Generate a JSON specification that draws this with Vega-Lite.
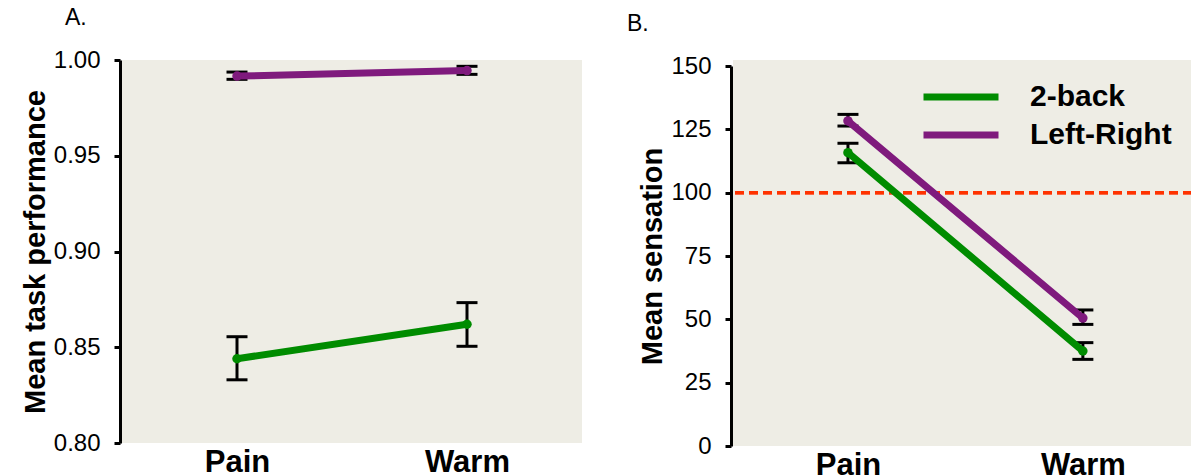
{
  "$schema": "https://vega.github.io/schema/vega-lite/v6.json",
  "padding": {"left": 21, "top": 7, "right": 0, "bottom": 0},
  "background": "white",
  "config": {
    "font": "Liberation Sans",
    "view": {"fill": "#EEEDE5", "stroke": null},
    "axisY": {
      "grid": false, "domainWidth": 3, "domainColor": "black", "tickWidth": 3, "tickColor": "black",
      "tickSize": 6, "labelFontSize": 24, "labelColor": "black", "labelPadding": 14, "labelFont": "Liberation Sans",
      "titleFontSize": 29, "titleFontWeight": "bold", "titleColor": "black", "titlePadding": 3, "offset": 2
    },
    "axisX": {
      "domain": false, "ticks": false, "grid": false, "labelAngle": 0, "labelFontSize": 31, "labelFontWeight": "bold",
      "labelColor": "black", "labelPadding": 4, "title": null
    },
    "title": {"fontSize": 23, "fontWeight": "normal", "color": "black", "anchor": "start", "frame": "group"}
  },
  "datasets": {
    "A": [
      {"condition": "Pain", "task": "2-back", "mean": 0.844, "lo": 0.833, "hi": 0.8555},
      {"condition": "Warm", "task": "2-back", "mean": 0.862, "lo": 0.8505, "hi": 0.8733},
      {"condition": "Pain", "task": "Left-Right", "mean": 0.9916, "lo": 0.9899, "hi": 0.9937},
      {"condition": "Warm", "task": "Left-Right", "mean": 0.9945, "lo": 0.9925, "hi": 0.9967}
    ],
    "B": [
      {"condition": "Pain", "task": "2-back", "mean": 115.8, "lo": 111.8, "hi": 119.5},
      {"condition": "Warm", "task": "2-back", "mean": 37.5, "lo": 34.2, "hi": 40.8},
      {"condition": "Pain", "task": "Left-Right", "mean": 128.3, "lo": 126.3, "hi": 130.9},
      {"condition": "Warm", "task": "Left-Right", "mean": 50.5, "lo": 48.0, "hi": 53.7}
    ]
  },
  "resolve": {"legend": {"color": "independent"}, "scale": {"color": "independent"}},
  "spacing": 45,
  "hconcat": [
    {
      "width": 460, "height": 383,
      "title": {"text": "A.", "dx": -57, "offset": 18},
      "data": {"name": "A"},
      "layer": [
        {
          "mark": {"type": "rule", "strokeWidth": 3, "color": "black"},
          "encoding": {
            "x": {"field": "condition", "type": "nominal", "scale": {"type": "point", "padding": 0.5}, "sort": ["Pain", "Warm"]},
            "y": {"field": "lo", "type": "quantitative", "scale": {"domain": [0.8, 1.0], "nice": false, "zero": false},
                  "axis": {"values": [0.8, 0.85, 0.9, 0.95, 1.0], "format": ".2f", "title": "Mean task performance"}},
            "y2": {"field": "hi"}
          }
        },
        {
          "mark": {"type": "tick", "orient": "horizontal", "size": 21, "thickness": 3, "color": "black", "opacity": 1},
          "encoding": {
            "x": {"field": "condition", "type": "nominal"},
            "y": {"field": "lo", "type": "quantitative"}
          }
        },
        {
          "mark": {"type": "tick", "orient": "horizontal", "size": 21, "thickness": 3, "color": "black", "opacity": 1},
          "encoding": {
            "x": {"field": "condition", "type": "nominal"},
            "y": {"field": "hi", "type": "quantitative"}
          }
        },
        {
          "mark": {"type": "line", "strokeWidth": 7, "strokeCap": "round"},
          "encoding": {
            "x": {"field": "condition", "type": "nominal"},
            "y": {"field": "mean", "type": "quantitative"},
            "color": {"field": "task", "type": "nominal", "scale": {"domain": ["2-back", "Left-Right"], "range": ["#008C00", "#7F1A7D"]}, "legend": null}
          }
        },
        {
          "mark": {"type": "point", "filled": true, "size": 90, "opacity": 1},
          "encoding": {
            "x": {"field": "condition", "type": "nominal"},
            "y": {"field": "mean", "type": "quantitative"},
            "color": {"field": "task", "type": "nominal", "legend": null}
          }
        }
      ]
    },
    {
      "width": 459, "height": 386,
      "title": {"text": "B.", "dx": -106, "offset": 18},
      "data": {"name": "B"},
      "layer": [
        {
          "mark": {"type": "rule", "strokeWidth": 3, "color": "black"},
          "encoding": {
            "x": {"field": "condition", "type": "nominal", "scale": {"type": "point", "padding": 0.477, "align": 0.513}, "sort": ["Pain", "Warm"]},
            "y": {"field": "lo", "type": "quantitative", "scale": {"domain": [0, 150], "nice": false, "range": [386, 6]},
                  "axis": {"values": [0, 25, 50, 75, 100, 125, 150], "title": "Mean sensation"}},
            "y2": {"field": "hi"}
          }
        },
        {
          "mark": {"type": "tick", "orient": "horizontal", "size": 21, "thickness": 3, "color": "black", "opacity": 1},
          "encoding": {
            "x": {"field": "condition", "type": "nominal"},
            "y": {"field": "lo", "type": "quantitative"}
          }
        },
        {
          "mark": {"type": "tick", "orient": "horizontal", "size": 21, "thickness": 3, "color": "black", "opacity": 1},
          "encoding": {
            "x": {"field": "condition", "type": "nominal"},
            "y": {"field": "hi", "type": "quantitative"}
          }
        },
        {
          "mark": {"type": "rule", "color": "#FF3300", "strokeWidth": 3, "strokeDash": [9, 5]},
          "encoding": {"y": {"datum": 100}}
        },
        {
          "mark": {"type": "line", "strokeWidth": 7, "strokeCap": "round"},
          "encoding": {
            "x": {"field": "condition", "type": "nominal"},
            "y": {"field": "mean", "type": "quantitative"},
            "color": {"field": "task", "type": "nominal", "scale": {"domain": ["2-back", "Left-Right"], "range": ["#008C00", "#7F1A7D"]},
              "legend": {"orient": "none", "legendX": 187, "legendY": 19, "title": null, "symbolType": "stroke",
                "symbolStrokeWidth": 7, "symbolSize": 5625, "labelFontSize": 30, "labelFontWeight": "bold",
                "labelColor": "black", "labelOffset": 28, "rowPadding": 2, "clipHeight": 36, "fillColor": null}}
          }
        },
        {
          "mark": {"type": "point", "filled": true, "size": 90, "opacity": 1},
          "encoding": {
            "x": {"field": "condition", "type": "nominal"},
            "y": {"field": "mean", "type": "quantitative"},
            "color": {"field": "task", "type": "nominal"}
          }
        }
      ]
    }
  ]
}
